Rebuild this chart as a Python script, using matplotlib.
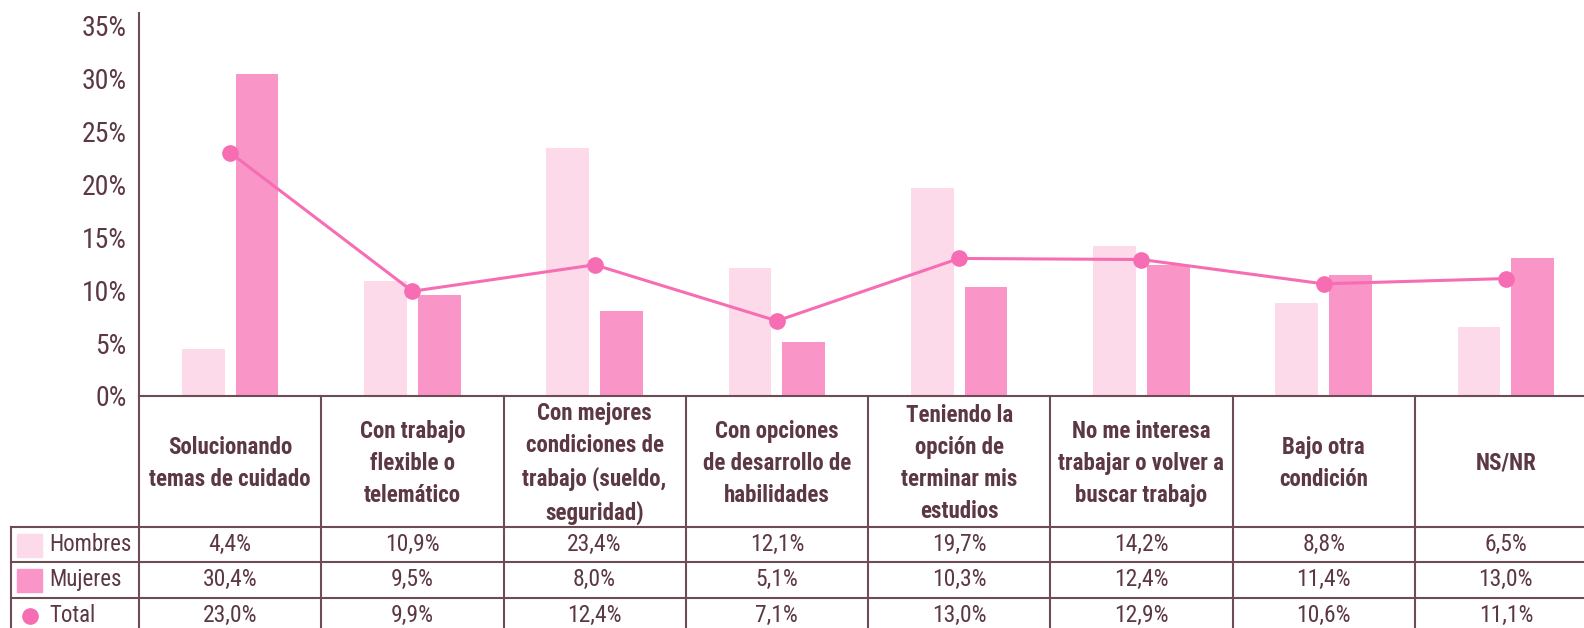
import matplotlib
matplotlib.use("Agg")
import matplotlib.pyplot as plt
from matplotlib.patches import Rectangle
import numpy as np

plt.rcParams['font.family'] = ['Roboto Condensed', 'Noto Sans Condensed', 'Open Sans Condensed',
                               'Noto Sans', 'Roboto', 'DejaVu Sans']
plt.rcParams['font.stretch'] = 'condensed'

categorias = [
    "Solucionando\ntemas de cuidado",
    "Con trabajo\nflexible o\ntelemático",
    "Con mejores\ncondiciones de\ntrabajo (sueldo,\nseguridad)",
    "Con opciones\nde desarrollo de\nhabilidades",
    "Teniendo la\nopción de\nterminar mis\nestudios",
    "No me interesa\ntrabajar o volver a\nbuscar trabajo",
    "Bajo otra\ncondición",
    "NS/NR",
]
hombres = [4.4, 10.9, 23.4, 12.1, 19.7, 14.2, 8.8, 6.5]
mujeres = [30.4, 9.5, 8.0, 5.1, 10.3, 12.4, 11.4, 13.0]
total = [23.0, 9.9, 12.4, 7.1, 13.0, 12.9, 10.6, 11.1]
series_nombres = ["Hombres", "Mujeres", "Total"]
yticks = [0, 5, 10, 15, 20, 25, 30, 35]

c_hom = "#FDDAEA"
c_muj = "#F995C7"
c_tot = "#F66DB4"
c_txt = "#5B3842"
c_lin = "#6E4C56"

def fmt(v):
    return f"{v:.1f}".replace(".", ",") + "%"

W, H = 1584, 628
fig = plt.figure(figsize=(W / 100, H / 100), dpi=100)

# grupos de 182.25 px; el ultimo queda cortado por el borde derecho
x0, gw = 139, 182.25
ax = fig.add_axes([x0 / W, (H - 396) / H, 8 * gw / W, (396 - 13) / H])
x = np.arange(len(categorias))
bw = 0.235
ax.bar(x - 0.147, hombres, bw, color=c_hom, zorder=2)
ax.bar(x + 0.147, mujeres, bw, color=c_muj, zorder=2)
ax.plot(x, total, color=c_tot, lw=2.2, marker="o", ms=11, zorder=3)
ax.set_xlim(-0.5, 7.5)
ax.set_ylim(0, 36.2)
ax.set_yticks(yticks)
ax.set_yticklabels([f"{t}%" for t in yticks], fontsize=20, color=c_txt)
ax.tick_params(axis="y", length=0, pad=9)
ax.set_xticks([])
for s in ["top", "right"]:
    ax.spines[s].set_visible(False)
for s in ["left", "bottom"]:
    ax.spines[s].set_color(c_lin)
    ax.spines[s].set_linewidth(1.5)

# tabla de datos debajo, eje y en pixeles desde la linea base
tab = fig.add_axes([x0 / W, (H - 640) / H, 8 * gw / W, 244 / H])
tab.set_xlim(-0.5, 7.5)
tab.set_ylim(244, 0)
tab.axis("off")

lx = -0.5 + (11 - x0) / gw
filas = [130.7, 166.2, 201.7]
kw = dict(color=c_lin, lw=1.5, clip_on=False)
for k in range(9):
    tab.plot([k - 0.5, k - 0.5], [0, 244], **kw)
tab.plot([lx, lx], [filas[0], 244], **kw)
for yy in filas:
    tab.plot([lx, 7.5], [yy, yy], **kw)

for i, cat in enumerate(categorias):
    tab.text(i, filas[0] / 2 + 2, cat, ha="center", va="center", fontsize=16.5,
             fontweight="bold", color=c_txt, linespacing=1.5)

rh = filas[1] - filas[0]
for r, vals in enumerate([hombres, mujeres, total]):
    yc = filas[r] + rh / 2
    for i, v in enumerate(vals):
        tab.text(i, yc, fmt(v), ha="center", va="center", fontsize=17, color=c_txt)
    tab.text(-0.5 + (49 - x0) / gw, yc, series_nombres[r], ha="left", va="center",
             fontsize=16.5, color=c_txt)

sx = -0.5 + (17 - x0) / gw
sw = 25 / gw
for r, col in enumerate([c_hom, c_muj]):
    yc = filas[r] + rh / 2 + 1
    tab.add_patch(Rectangle((sx, yc - 11.5), sw, 23, color=col, clip_on=False))
tab.plot([-0.5 + (30 - x0) / gw], [filas[2] + rh / 2 + 1], marker="o", ms=11,
         color=c_tot, clip_on=False)

fig.savefig("out.png", dpi=100)
